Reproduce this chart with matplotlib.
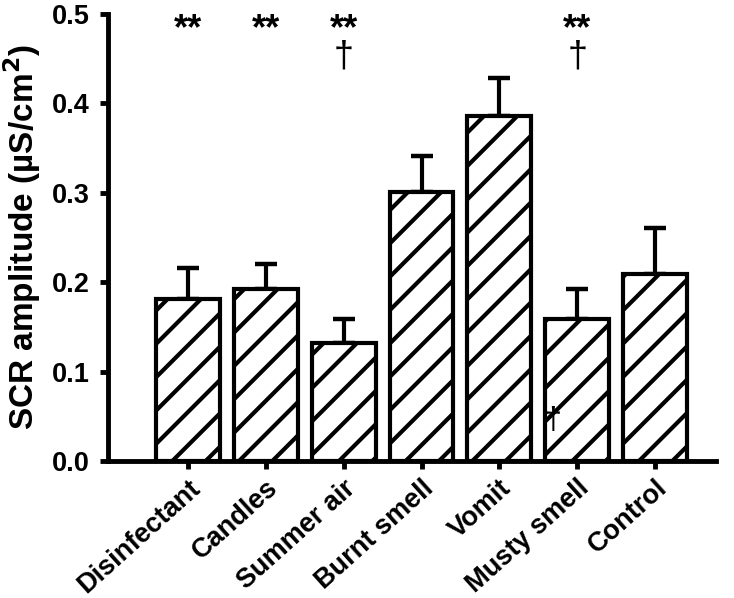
import numpy as np
import matplotlib
matplotlib.use('Agg')
import matplotlib.pyplot as plt

plt.rcParams['font.family'] = ['Liberation Sans', 'DejaVu Sans']
plt.rcParams['font.weight'] = 'bold'
plt.rcParams['hatch.linewidth'] = 3.0

odours = ['Disinfectant', 'Candles', 'Summer air', 'Burnt smell', 'Vomit', 'Musty smell', 'Control']
scr_mean = [0.181, 0.192, 0.132, 0.301, 0.386, 0.159, 0.209]
scr_sem = [0.035, 0.028, 0.027, 0.040, 0.042, 0.033, 0.051]
stars = ['**', '**', '**', '', '', '**', '']
daggers = ['', '', '\u2020', '', '', '\u2020', '']

fig, ax = plt.subplots(figsize=(7.34, 5.98), dpi=100)
fig.subplots_adjust(left=0.147, right=0.975, bottom=0.229, top=0.977)

x = np.arange(len(odours))
ax.bar(x, scr_mean, width=0.82, color='white', edgecolor='black',
       linewidth=3, hatch='/', zorder=2)
ax.errorbar(x, scr_mean, yerr=[np.zeros(len(x)), scr_sem], fmt='none',
            ecolor='black', elinewidth=3, capsize=8, capthick=3.2, zorder=1)

for i in range(len(odours)):
    if stars[i]:
        ax.text(x[i], 0.472, stars[i], ha='center', va='baseline', fontsize=26, fontweight='bold')
    if daggers[i]:
        ax.text(x[i], 0.441, daggers[i], ha='center', va='baseline', fontsize=26, fontweight='normal')

# small dagger drawn inside the musty smell bar
ax.text(x[5] - 0.31, 0.036, '\u2020', ha='center', va='baseline', fontsize=22, fontweight='normal', zorder=3)

ax.set_xlim(-1.03, 6.78)
ax.set_ylim(0, 0.5)
ax.set_yticks([0.0, 0.1, 0.2, 0.3, 0.4, 0.5])
ax.set_yticklabels(['0.0', '0.1', '0.2', '0.3', '0.4', '0.5'], fontsize=19.5, fontweight='bold')
ax.set_xticks(x)
ax.set_xticklabels(odours, rotation=42, ha='right', rotation_mode='anchor', fontsize=19.5, fontweight='bold')
ax.set_ylabel('SCR amplitude (\u00b5S/cm$^\\mathbf{2}$)', fontsize=24, fontweight='bold')
ax.yaxis.set_label_coords(-0.107, 0.5)

ax.spines['top'].set_visible(False)
ax.spines['right'].set_visible(False)
ax.spines['left'].set_linewidth(3.5)
ax.spines['bottom'].set_linewidth(3.5)
ax.tick_params(axis='both', direction='out', length=6, width=3.5, pad=7)
ax.tick_params(axis='x', pad=4)

fig.savefig('out.png', dpi=100)
